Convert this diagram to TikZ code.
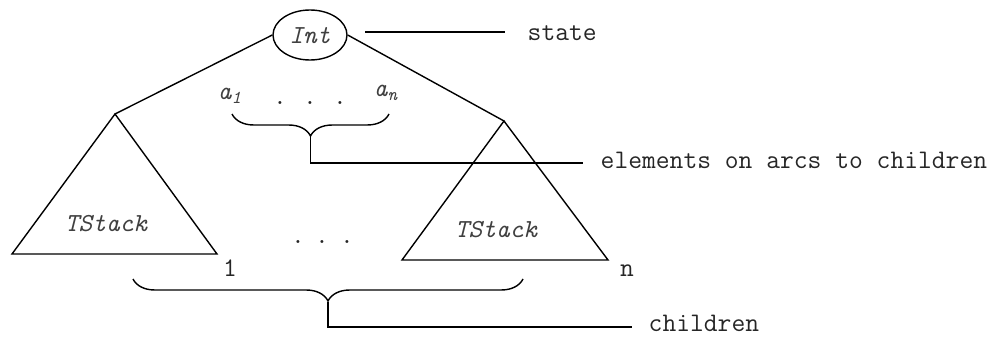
\documentclass[tikz,border=0pt]{standalone}
\usetikzlibrary{shapes.geometric,decorations.pathreplacing}
\begin{document}
\begin{tikzpicture}[x=0.5pt,y=-0.5pt,
  line width=0.7pt,
  lbl/.style={font=\fontsize{13.4}{15}\selectfont\ttfamily, text=black!85, inner sep=0pt},
  ilbl/.style={font=\fontsize{13}{15}\selectfont\ttfamily\itshape, text=black!75, inner sep=0pt},
  conn/.style={draw, line width=0.7pt},
  bracedeco/.style={draw, line width=0.7pt, decorate, decoration={brace, amplitude=11pt}}]
\useasboundingbox (0,0) rectangle (998,337);

% state node
\node[draw, ellipse, line width=0.7pt, minimum width=37pt, minimum height=25pt, inner sep=0pt] (int) at (310,35) {};
\node[ilbl] (inttxt) at (310,36) {Int};

% triangles
\coordinate (lA) at (115,114);
\coordinate (lL) at (12,254);
\coordinate (lR) at (217,254);
\coordinate (rA) at (504,121);
\coordinate (rL) at (402,260);
\coordinate (rR) at (608,260);
\draw[conn] (int.west) -- (lA);
\draw[conn] (int.east) -- (rA);
\draw[conn] (lA) -- (lL) -- (lR) -- cycle;
\draw[conn] (rA) -- (rL) -- (rR) -- cycle;
\node[ilbl] (ts1) at (106,224) {TStack};
\node[ilbl] (ts2) at (496,230) {TStack};
\node[lbl] (one) at (230,268) {1};
\node[lbl] (nn) at (627,271) {n};

% arc elements
\node[ilbl] (a1) at (230,96) {a\textsubscript{1}};
\node[ilbl] (an) at (386,93) {a\textsubscript{n}};
\foreach \i/\x in {1/280,2/310,3/340} \node[lbl] (td\i) at (\x,103) {.};
\foreach \i/\x in {1/298,2/322,3/347} \node[lbl] (md\i) at (\x,242) {.};

% state label
\coordinate (s0) at (365,32);
\coordinate (s1) at (505,32);
\node[lbl, anchor=west] (state) at (527,33) {state};
\draw[conn] (s0) -- (s1);

% top brace
\coordinate (b1r) at (389,114);
\coordinate (b1l) at (232,114);
\draw[bracedeco] (b1r) -- (b1l);
\coordinate (b1tip) at (310.5,137);
\coordinate (b1c) at (310.5,163);
\coordinate (b1e) at (583,163);
\node[lbl, anchor=west] (elem) at (600,160) {elements on arcs to children};
\draw[conn] (b1tip) -- (b1c) -- (b1e);

% bottom brace
\coordinate (b2r) at (523,279);
\coordinate (b2l) at (133,279);
\draw[bracedeco] (b2r) -- (b2l);
\coordinate (b2tip) at (328,302);
\coordinate (b2c) at (328,327);
\coordinate (b2e) at (632,327);
\node[lbl, anchor=west] (child) at (648,323) {children};
\draw[conn] (b2tip) -- (b2c) -- (b2e);
\end{tikzpicture}
\end{document}
